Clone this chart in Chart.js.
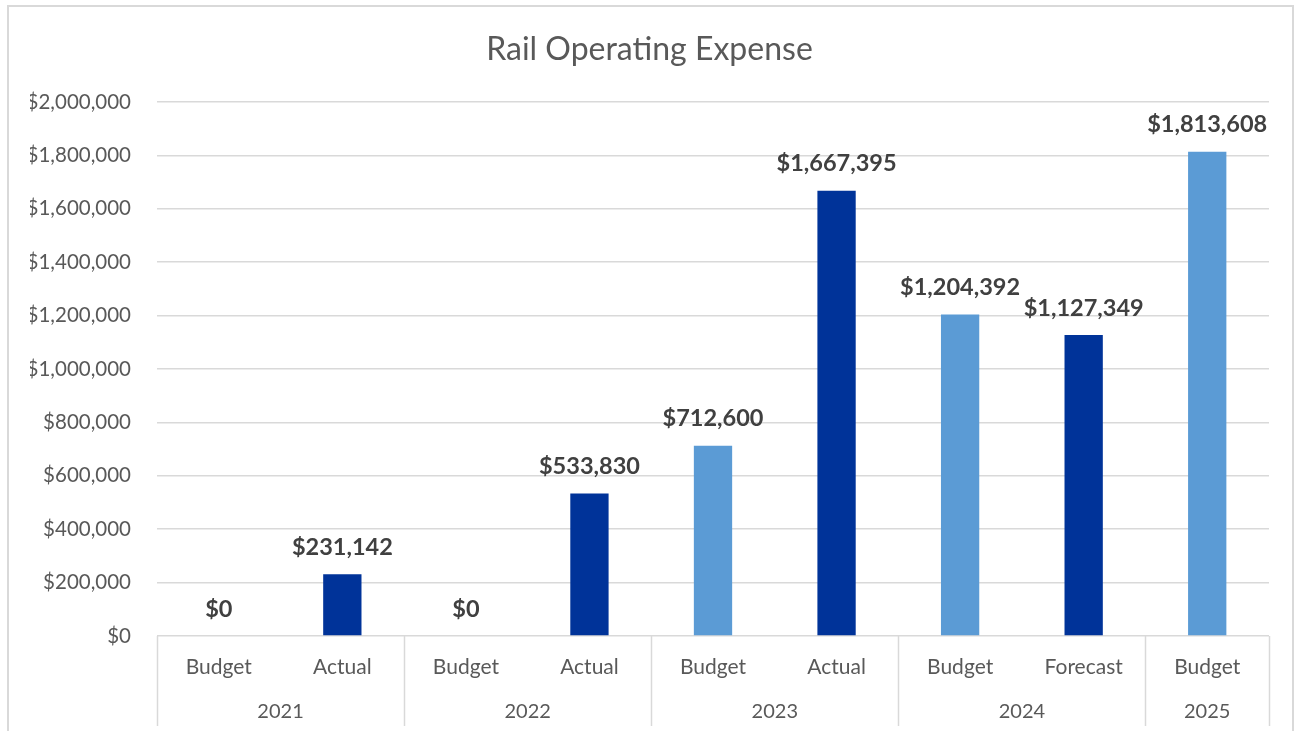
<!DOCTYPE html>
<html lang="en">
<head>
<meta charset="UTF-8">
<title>Rail Operating Expense</title>
<script src="https://cdn.jsdelivr.net/npm/chart.js"></script>
<style>
  html, body { margin: 0; padding: 0; background: #fff; }
  #wrap { position: relative; width: 1299px; height: 731px; }
</style>
</head>
<body>
<div id="wrap"><canvas id="expenseChart"></canvas></div>
<script>
// ======= Data =======
const types = ['Budget', 'Actual', 'Budget', 'Actual', 'Budget', 'Actual', 'Budget', 'Forecast', 'Budget'];
const years = ['2021', '2021', '2022', '2022', '2023', '2023', '2024', '2024', '2025'];
const expense = [0, 231142, 0, 533830, 712600, 1667395, 1204392, 1127349, 1813608];
const yTicks = [0, 200000, 400000, 600000, 800000, 1000000, 1200000, 1400000, 1600000, 1800000, 2000000];

const LIGHT = '#5b9bd5';
const DARK = '#003399';
const GRID = '#d9d9d9';
const TEXT = '#595959';
const FONT = 'Lato, "Open Sans", sans-serif';

const money = v => '$' + Number(v).toLocaleString('en-US');

// ======= Plugins =======
// outer frame of the chart
const frame = {
    id: 'frame',
    beforeDraw(chart) {
        const ctx = chart.ctx;
        ctx.save();
        ctx.strokeStyle = GRID;
        ctx.lineWidth = 2;
        ctx.strokeRect(8, 6, 1285, 740);
        ctx.restore();
    }
};

// value labels above each bar
const valueLabels = {
    id: 'valueLabels',
    afterDatasetsDraw(chart) {
        const ctx = chart.ctx;
        const meta = chart.getDatasetMeta(0);
        ctx.save();
        ctx.font = 'bold 23.5px ' + FONT;
        ctx.fillStyle = '#404040';
        ctx.textAlign = 'center';
        ctx.textBaseline = 'middle';
        meta.data.forEach((bar, i) => {
            ctx.fillText(money(expense[i]), bar.x, bar.y - 27);
        });
        ctx.restore();
    }
};

// second level of the category axis: year groups with dividers
const yearAxis = {
    id: 'yearAxis',
    afterDraw(chart) {
        const ctx = chart.ctx;
        const x = chart.scales.x;
        const top = chart.chartArea.bottom;
        const bottom = 726;
        const half = (x.getPixelForValue(1) - x.getPixelForValue(0)) / 2;

        // group boundaries
        const groups = [];
        years.forEach((y, i) => {
            if (i === 0 || years[i - 1] !== y) groups.push({ year: y, start: i, end: i });
            else groups[groups.length - 1].end = i;
        });

        ctx.save();
        ctx.strokeStyle = GRID;
        ctx.lineWidth = 1.5;
        const edges = [x.left];
        groups.forEach(g => edges.push(x.getPixelForValue(g.end) + half));
        edges.forEach(px => {
            ctx.beginPath();
            ctx.moveTo(Math.round(px) + 0.5, top);
            ctx.lineTo(Math.round(px) + 0.5, bottom);
            ctx.stroke();
        });

        ctx.font = '20px ' + FONT;
        ctx.fillStyle = TEXT;
        ctx.textAlign = 'center';
        ctx.textBaseline = 'middle';
        groups.forEach(g => {
            const cx = (x.getPixelForValue(g.start) + x.getPixelForValue(g.end)) / 2;
            ctx.fillText(g.year, cx, 712);
        });
        ctx.restore();
    }
};

// ======= Chart =======
new Chart(document.getElementById('expenseChart'), {
    type: 'bar',
    data: {
        labels: types,
        datasets: [{
            label: 'Rail Operating Expense',
            data: expense,
            backgroundColor: types.map(t => t === 'Budget' ? LIGHT : DARK),
            borderWidth: 0,
            categoryPercentage: 1,
            barPercentage: 0.31
        }]
    },
    options: {
        responsive: true,
        maintainAspectRatio: false,
        animation: false,
        layout: { padding: { left: 30, right: 30, top: 0, bottom: 0 } },
        plugins: {
            legend: { display: false },
            tooltip: { enabled: false },
            title: {
                display: true,
                text: 'Rail Operating Expense',
                color: TEXT,
                font: { family: FONT, size: 32, weight: 'normal' },
                padding: { top: 30, bottom: 33.6 }
            }
        },
        scales: {
            x: {
                grid: { display: false },
                border: { display: false },
                ticks: {
                    color: TEXT,
                    font: { family: FONT, size: 21 },
                    padding: 11,
                    maxRotation: 0,
                    autoSkip: false
                },
                afterFit(scale) { scale.height = 95; }
            },
            y: {
                min: 0,
                max: 2000000,
                afterBuildTicks(scale) { scale.ticks = yTicks.map(v => ({ value: v })); },
                grid: { color: GRID, lineWidth: 1.5, drawTicks: false },
                border: { display: false },
                ticks: {
                    color: TEXT,
                    font: { family: FONT, size: 20.5 },
                    padding: 26,
                    callback: v => money(v)
                },
                afterFit(scale) { scale.width = 127; }
            }
        }
    },
    plugins: [frame, valueLabels, yearAxis]
});
</script>
</body>
</html>
